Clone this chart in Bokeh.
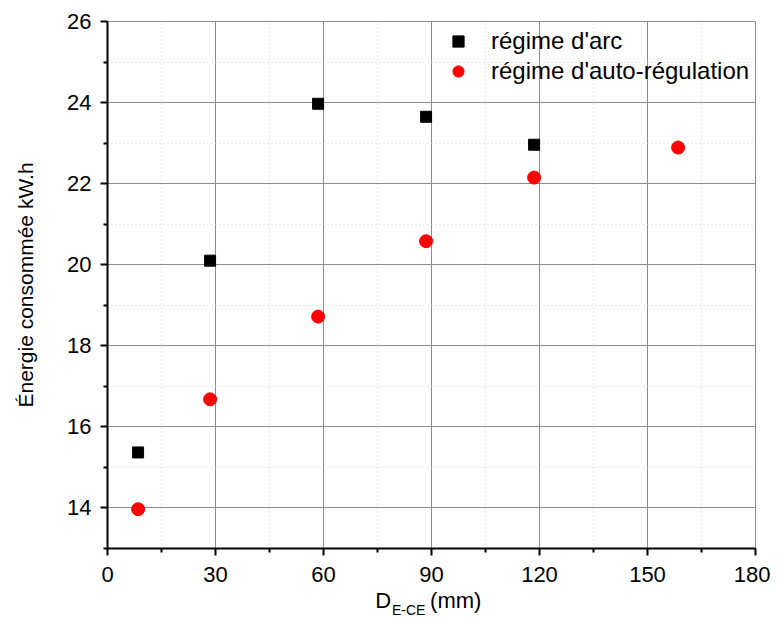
from bokeh.plotting import figure
from bokeh.layouts import column
from bokeh.models import Legend, LegendItem, Label, FixedTicker, Range1d
from bokeh.embed import file_html
from bokeh.resources import INLINE

# data
x_arc = [8.5, 28.5, 58.5, 88.5, 118.5]
y_arc = [15.37, 20.10, 23.97, 23.65, 22.96]
x_auto = [8.5, 28.5, 58.5, 88.5, 118.5, 158.5]
y_auto = [13.97, 16.68, 18.72, 20.58, 22.15, 22.89]
x_ticks = [0, 30, 60, 90, 120, 150, 180]
x_minor = [15, 45, 75, 105, 135, 165]
y_ticks = [14, 16, 18, 20, 22, 24, 26]
y_minor = [13, 15, 17, 19, 21, 23, 25]

FONT = "Liberation Sans"
W = 770
H1 = 588
H2 = 29
BL, BR = 107, 15

p = figure(width=W, height=H1, output_backend="svg", toolbar_location=None,
           x_range=Range1d(0, 180), y_range=Range1d(13, 26),
           min_border_left=BL, min_border_right=BR, min_border_top=21,
           min_border_bottom=40)

p.outline_line_color = "#8c8c8c"
p.outline_line_width = 1

for ax in (p.xaxis[0], p.yaxis[0]):
    ax.axis_line_color = "black"
    ax.axis_line_width = 2
    ax.major_tick_line_color = "black"
    ax.major_tick_line_width = 2
    ax.minor_tick_line_color = "black"
    ax.minor_tick_line_width = 2
    ax.major_tick_in = 0
    ax.major_tick_out = 7
    ax.minor_tick_in = 0
    ax.minor_tick_out = 4
    ax.major_label_text_font = FONT
    ax.major_label_text_font_size = "22px"
    ax.major_label_text_color = "black"

p.xaxis.ticker = FixedTicker(ticks=x_ticks, minor_ticks=x_minor)
p.yaxis.ticker = FixedTicker(ticks=y_ticks, minor_ticks=y_minor)
p.xaxis.major_label_standoff = 11
p.yaxis.major_label_standoff = 9

p.yaxis.axis_label = "Énergie consommée kW.h"
p.yaxis.axis_label_text_font = FONT
p.yaxis.axis_label_text_font_size = "21px"
p.yaxis.axis_label_text_font_style = "normal"
p.yaxis.axis_label_text_color = "black"
p.yaxis.axis_label_standoff = 27

for g in (p.xgrid[0], p.ygrid[0]):
    g.grid_line_color = "#8c8c8c"
    g.grid_line_width = 1
    g.minor_grid_line_color = "#d0d0d0"
    g.minor_grid_line_dash = "1 3"
    g.minor_grid_line_width = 1

r_arc = p.scatter(x_arc, y_arc, marker="square", size=11,
                  fill_color="black", line_color="black")
r_auto = p.scatter(x_auto, y_auto, marker="circle", size=13,
                   fill_color="red", line_color="red")

legend = Legend(items=[LegendItem(label="régime d'arc", renderers=[r_arc]),
                       LegendItem(label="régime d'auto-régulation", renderers=[r_auto])],
                location=(337, 463), border_line_color=None,
                background_fill_alpha=0, padding=0, margin=0, spacing=2,
                glyph_width=28, glyph_height=28, label_standoff=19,
                label_text_font=FONT, label_text_font_size="24px",
                label_text_color="black")
p.add_layout(legend, "center")

# x axis title (with subscript) in a strip below the plot
p2 = figure(width=W, height=H2, output_backend="svg", toolbar_location=None,
            x_range=p.x_range, y_range=Range1d(H2, 0),
            x_axis_type=None, y_axis_type=None,
            min_border_left=BL, min_border_right=BR, min_border_top=0,
            min_border_bottom=0)
p2.outline_line_color = None
p2.grid.visible = False

p2.add_layout(Label(x=74.4, y=11.5, text="D", text_font=FONT, text_color="black",
                    text_font_size="22px", text_baseline="alphabetic"))
p2.add_layout(Label(x=79.0, y=21.5, text="E-CE", text_font=FONT, text_color="black",
                    text_font_size="14px", text_baseline="alphabetic"))
p2.add_layout(Label(x=89.6, y=11.5, text="(mm)", text_font=FONT, text_color="black",
                    text_font_size="22px", text_baseline="alphabetic"))

layout = column(p, p2, spacing=0)
open("out.html", "w").write(file_html(layout, INLINE))
